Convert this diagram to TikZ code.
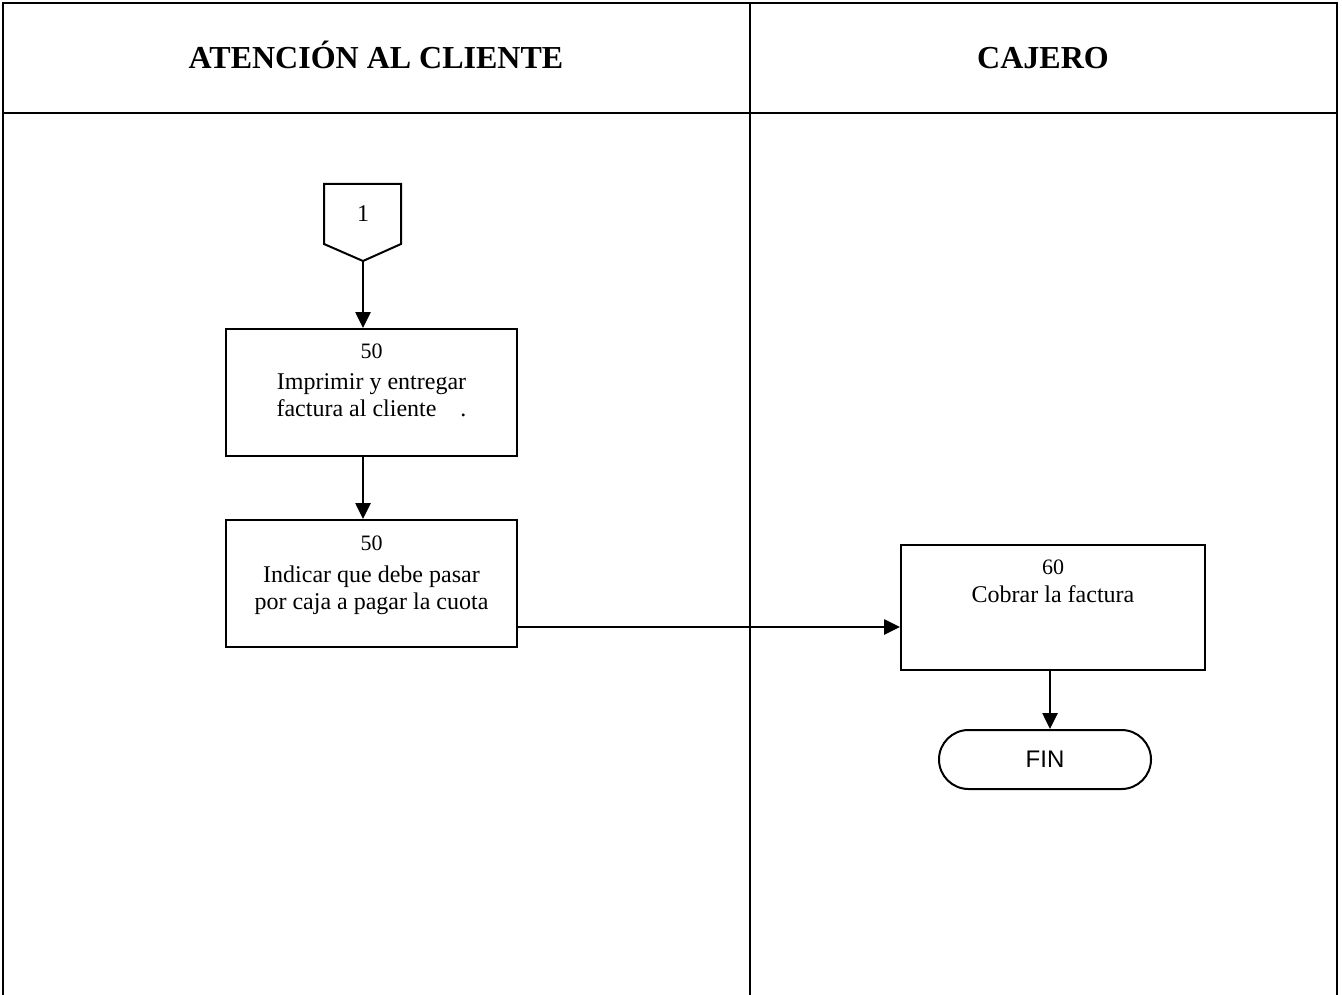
\documentclass[tikz,border=0pt]{standalone}
\usepackage{fontspec}
\setmainfont{Liberation Serif}
\newfontfamily\sansf{Liberation Sans}
\usetikzlibrary{arrows.meta,shapes.misc,calc}
\tikzset{
  lane/.style={line width=2.2pt},
  procbox/.style={draw, line width=2pt, rectangle, inner sep=0pt},
  boxtext/.style={anchor=north, align=center, inner sep=0pt, font=\fontsize{24}{27}\selectfont},
  arr/.style={line width=2.6pt, -{Triangle[length=16pt,width=15pt]}},
  title/.style={font=\fontsize{32}{38}\selectfont\bfseries, anchor=base},
  term/.style={draw, line width=2pt, rounded rectangle, inner sep=0pt, font=\sansf\fontsize{24}{28}\selectfont}
}
\newcommand{\numtxt}[1]{{\fontsize{22}{24}\selectfont #1}}
\begin{document}
\begin{tikzpicture}[x=1pt,y=-1pt]
\useasboundingbox (0,0) rectangle (1342,995);
% lanes
\draw[lane] (3,995) -- (3,3) -- (1337,3) -- (1337,995);
\draw[lane] (3,113) -- (1337,113);
\draw[lane] (750,3) -- (750,995);
\node[title] (t1) at (376,69) {ATENCIÓN AL CLIENTE};
\node[title] (t2) at (1043,69) {CAJERO};
% off-page connector
\draw[line width=2pt] (324,184) -- (401,184) -- (401,244) -- (363,261) -- (324,244) -- cycle;
\node[font=\fontsize{24}{28}\selectfont] (c1) at (363,214) {1};
\coordinate (ctip) at (363,261);
% boxes
\node[procbox, minimum width=291pt, minimum height=127pt] (b1) at (371.5,392.5) {};
\node[boxtext] (b1t) at ([yshift=-16pt]b1.north) {\numtxt{50}\\[4pt]Imprimir y entregar\\factura al cliente\ \ \ \ .};
\node[procbox, minimum width=291pt, minimum height=127pt] (b2) at (371.5,583.5) {};
\node[boxtext] (b2t) at ([yshift=-17pt]b2.north) {\numtxt{50}\\[5pt]Indicar que debe pasar\\por caja a pagar la cuota};
\node[procbox, minimum width=304pt, minimum height=125pt] (b3) at (1053,607.5) {};
\node[boxtext] (b3t) at ([yshift=-16pt]b3.north) {\numtxt{60}\\[1pt]Cobrar la factura};
\node[term, minimum width=212pt, minimum height=59pt] (fin) at (1045,759.5) {FIN};
% connectors
\draw[arr] (ctip) -- (b1.north -| ctip);
\draw[arr] (b1.south -| ctip) -- (b2.north -| ctip);
\coordinate (s2) at ([yshift=21pt]b2.south east);
\draw[arr] (s2) -- (s2 -| b3.west);
\coordinate (s3) at ([xshift=-3pt]b3.south);
\draw[arr] (s3) -- (s3 |- fin.north);
\end{tikzpicture}
\end{document}
